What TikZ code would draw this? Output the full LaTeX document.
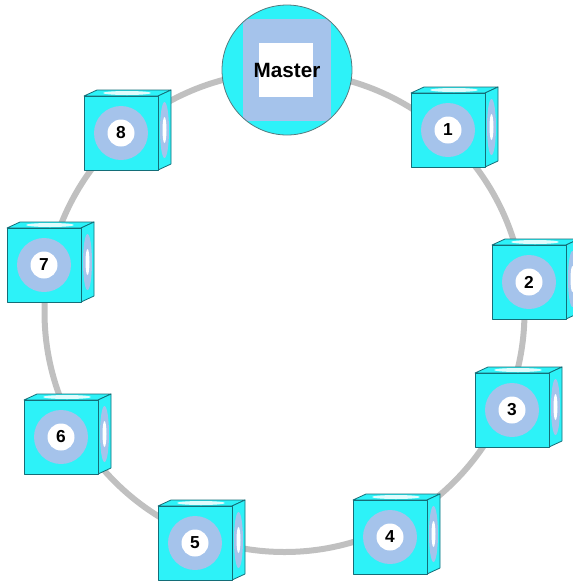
\documentclass[tikz,border=0pt]{standalone}
\usepackage{fontspec}
\setmainfont{Liberation Sans}

\definecolor{cubecyan}{RGB}{45,242,248}
\definecolor{edgeteal}{RGB}{20,110,120}
\definecolor{diskblue}{RGB}{165,195,235}
\definecolor{ringgray}{RGB}{192,192,192}

\tikzset{
  ring/.style={draw=ringgray, line width=4.5pt},
  face/.style={fill=cubecyan, draw=edgeteal, line width=0.6pt, line join=round},
  num/.style={font=\bfseries\fontsize{13}{13}\selectfont, inner sep=0pt},
  mastertext/.style={font=\bfseries\fontsize{15.5}{15.5}\selectfont, inner sep=0pt}
}

% one slave station: name, x, y, label
\newcommand{\netcube}[4]{%
  \begin{scope}[shift={(#2,#3)}]
    \draw[face] (-37,-37) -- (-24,-43) -- (50,-43) -- (37,-37) -- cycle;
    \fill[white, opacity=0.85] (6,-40) ellipse (24 and 2);
    \draw[face] (37,-37) -- (50,-43) -- (50,31) -- (37,37) -- cycle;
    \fill[diskblue] (43.5,-3) ellipse (4.5 and 28);
    \fill[white] (43.5,-3) ellipse (2 and 13);
    \draw[face] (-37,-37) rectangle (37,37);
    \fill[diskblue] (0,0) circle (27);
    \fill[white] (0,0) circle (13.5);
    \node[num] (#1) at (0,0) {#4};
  \end{scope}}

\begin{document}
\begin{tikzpicture}[x=0.75pt, y=-0.75pt]
        \useasboundingbox (0,0) rectangle (573,583);

        % Draw the ring
        \draw[ring] (284.5,312) circle (240);

        % Draw the master station
        \begin{scope}
          \clip (287,70) circle (65);
          \fill[cubecyan] (287,70) circle (65);
          \fill[diskblue] (243,19) rectangle (331,121);
        \end{scope}
        \draw[draw=gray!60!edgeteal, line width=0.6pt] (287,70) circle (65);
        \fill[white] (259,43) rectangle (313,97);
        \node[mastertext] (master) at (287,70) {Master};

        % Draw the stations on the ring
        \netcube{c1}{448}{130}{1}
        \netcube{c2}{529}{282}{2}
        \netcube{c3}{512}{410}{3}
        \netcube{c4}{390}{537}{4}
        \netcube{c5}{195}{543}{5}
        \netcube{c6}{61}{437}{6}
        \netcube{c7}{44}{265}{7}
        \netcube{c8}{121}{133}{8}
    \end{tikzpicture}
\end{document}
